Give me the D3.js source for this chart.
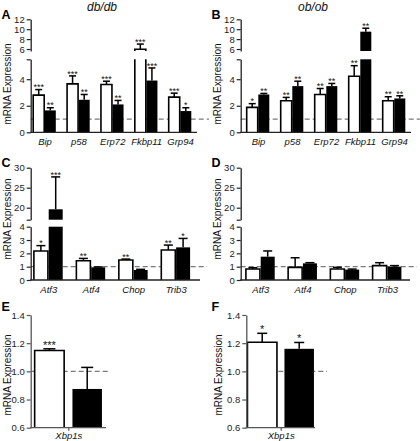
<!DOCTYPE html>
<html><head><meta charset="utf-8">
<script src="https://cdn.jsdelivr.net/npm/d3@7"></script>
<style>
body{margin:0;background:#fff}
svg{display:block}
text{font-family:"Liberation Sans",Arial,sans-serif}
</style>
</head><body>
<svg id="c" width="420" height="441"></svg>
<script>
// ---------- DATA ----------
const erGenes  = ["Bip","p58","Erp72","Fkbp11","Grp94"];
const uprGenes = ["Atf3","Atf4","Chop","Trib3"];
const xbpGenes = ["Xbp1s"];

// Panel A (db/db)
const aWhite = [2.8, 3.65, 3.6, 5.95, 2.65];
const aWhiteErr = [0.42, 0.6, 0.25, 1.05, 0.3];
const aBlack = [1.65, 2.45, 2.1, 3.9, 1.6];
const aBlackErr = [0.2, 0.4, 0.3, 0.95, 0.25];
const aWhiteStars = ["***","***","***","***","***"];
const aBlackStars = ["**","**","**","***","*"];

// Panel B (ob/ob)
const bWhite = [1.88, 2.38, 2.85, 4.22, 2.38];
const bWhiteErr = [0.28, 0.25, 0.45, 0.8, 0.3];
const bBlack = [2.85, 3.48, 3.48, 9.5, 2.55];
const bBlackErr = [0.08, 0.37, 0.2, 0.7, 0.2];
const bWhiteStars = ["*","**","**","**","**"];
const bBlackStars = ["**","**","**","**","**"];

// Panel C
const cWhite = [2.18, 1.45, 1.5, 2.25];
const cWhiteErr = [0.4, 0.17, 0.07, 0.37];
const cBlack = [19.6, 0.95, 0.75, 2.45];
const cBlackErr = [8.1, 0.03, 0.05, 0.67];
const cWhiteStars = ["*","**","**","**"];
const cBlackStars = ["***","","","*"];

// Panel D
const dWhite = [0.82, 0.95, 0.82, 1.08];
const dWhiteErr = [0.1, 0.72, 0.13, 0.22];
const dBlack = [1.75, 1.25, 0.78, 1.0];
const dBlackErr = [0.43, 0.05, 0.04, 0.08];
const dWhiteStars = ["","","",""];
const dBlackStars = ["","","",""];

// Panel E
const eWhite = [1.148]; const eWhiteErr = [0.012];
const eBlack = [0.875]; const eBlackErr = [0.153];
const eWhiteStars = ["***"]; const eBlackStars = [""];

// Panel F
const fWhite = [1.207]; const fWhiteErr = [0.063];
const fBlack = [1.16]; const fBlackErr = [0.045];
const fWhiteStars = ["*"]; const fBlackStars = ["*"];

// tick values
const erLowerTicks = [0,2,4,5.5], erLowerLabels = [0,2,4];
const erUpperTicks = [6,8,10,12];
const uprLowerTicks = [0,1,2,3,4];
const uprUpperTicks = [17,20,25,30], uprUpperLabels = [20,25,30];
const xbpTicks = [0.6,0.8,1.0,1.2,1.4];

// ---------- DRAW ----------
const svg = d3.select("#c");
const AX = "#222";

function drawPanel(p){
  const g = svg.append("g");
  const segs = p.segs.map(s => Object.assign({}, s, {sc: d3.scaleLinear().domain(s.domain).range(s.range)}));
  const lower = segs[0].sc;
  const segFor = v => segs.find(s => v >= s.domain[0] && v <= s.domain[1]) || segs[segs.length-1];

  // reference dashed line
  g.append("line").attr("x1", p.axisX).attr("x2", p.dashEnd)
    .attr("y1", lower(1)).attr("y2", lower(1))
    .attr("stroke", "#7a7a7a").attr("stroke-width", 1.3).attr("stroke-dasharray", "5,3");

  const xc = d3.scalePoint().domain(p.cats).range(p.centers);
  const series = [
    {vals: p.white, errs: p.whiteErr, stars: p.whiteStars, white: true, off: -(p.gap/2 + p.barW)},
    {vals: p.black, errs: p.blackErr, stars: p.blackStars, white: false, off: p.gap/2}
  ];
  series.forEach(se => {
    p.cats.forEach((c, i) => {
      const v = se.vals[i];
      const x0 = xc(c) + se.off, x1 = x0 + p.barW, cx = (x0 + x1) / 2;
      segs.forEach(s => {
        const b = s.domain[0];
        if (v <= b) return;
        const top = Math.min(v, s.domain[1]);
        const hasTop = v <= s.domain[1];
        const yb = s.sc(b), yt = s.sc(top);
        g.append("rect").attr("x", x0).attr("y", yt).attr("width", p.barW).attr("height", yb - yt)
          .attr("fill", se.white ? "#fff" : "#000");
        if (se.white) {
          const path = hasTop
            ? `M${x0},${yb}V${yt}H${x1}V${yb}`
            : `M${x0},${yb}V${yt}M${x1},${yt}V${yb}`;
          g.append("path").attr("d", path).attr("fill", "none").attr("stroke", "#000").attr("stroke-width", 1.6);
        }
      });
      // error bar (upper only)
      const e = v + se.errs[i];
      const sv = segFor(v), see = segFor(e);
      const yv = sv.sc(v), ye = see.sc(e);
      g.append("line").attr("x1", cx).attr("x2", cx).attr("y1", yv).attr("y2", ye)
        .attr("stroke", "#000").attr("stroke-width", 1.5);
      g.append("line").attr("x1", cx - p.capW/2).attr("x2", cx + p.capW/2).attr("y1", ye).attr("y2", ye)
        .attr("stroke", "#000").attr("stroke-width", 1.5);
      if (se.stars[i]) {
        g.append("text").attr("x", cx).attr("y", ye - p.starOff + 0.58 * p.starFs)
          .attr("text-anchor", "middle").attr("font-size", p.starFs).attr("fill", "#111")
          .text(se.stars[i]);
      }
    });
  });

  // y axis segments
  segs.forEach(s => {
    const ax = d3.axisLeft(s.sc).tickValues(s.ticks).tickSize(4).tickSizeOuter(0).tickPadding(2)
      .tickFormat(d => (s.labels ? (s.labels.includes(d) ? p.fmt(d) : "") : p.fmt(d)));
    const ag = g.append("g").attr("transform", `translate(${p.axisX},0)`).call(ax);
    ag.select(".domain").attr("stroke", p.axColor).attr("stroke-width", 1.3);
    ag.selectAll(".tick line").attr("stroke", p.axColor).attr("stroke-width", 1.2);
    ag.selectAll(".tick text").attr("font-size", 9.5).attr("fill", "#222")
      .attr("font-family", "'Liberation Sans',Arial,sans-serif");
  });

  // x axis line
  g.append("line").attr("x1", p.axisX - 0.6).attr("x2", p.xEnd)
    .attr("y1", p.segs[0].range[0]).attr("y2", p.segs[0].range[0])
    .attr("stroke", p.axColor).attr("stroke-width", 1.3);
  const xa = d3.axisBottom(xc).tickSize(p.xTick).tickSizeOuter(0).tickPadding(p.xPad);
  const xg = g.append("g").attr("transform", `translate(0,${p.segs[0].range[0]})`).call(xa);
  xg.select(".domain").remove();
  xg.selectAll(".tick line").attr("stroke", p.axColor).attr("stroke-width", 1.2);
  xg.selectAll(".tick text").attr("font-size", 9.5).attr("font-style", "italic").attr("fill", "#111")
    .attr("font-family", "'Liberation Sans',Arial,sans-serif");

  // y label
  g.append("text").attr("transform", `translate(${p.ylabX},${p.ylabY}) rotate(-90)`)
    .attr("text-anchor", "middle").attr("font-size", 10).attr("fill", "#111").text("mRNA Expression");
  // panel letter
  g.append("text").attr("x", p.letterX).attr("y", p.letterY).attr("font-size", 12.5)
    .attr("font-weight", "bold").attr("fill", "#000").text(p.letter);
  if (p.title) {
    g.append("text").attr("x", p.titleX).attr("y", 11).attr("text-anchor", "middle")
      .attr("font-size", 12).attr("font-style", "italic").attr("fill", "#111").text(p.title);
  }
}

const intFmt = d3.format("d");
const decFmt = d3.format(".1f");

const erSegs = [
  {domain:[0,5.5], range:[132.3,59.3], ticks: erLowerTicks, labels: erLowerLabels},
  {domain:[5.6,12], range:[51,19.3], ticks: erUpperTicks}
];
const uprSegs = [
  {domain:[0,4], range:[280,226.7], ticks: uprLowerTicks},
  {domain:[17,30], range:[219.7,167.7], ticks: uprUpperTicks, labels: uprUpperLabels}
];
const xbpSegs = [
  {domain:[0.6,1.4], range:[427.7,315], ticks: xbpTicks}
];

const common = {fmt: intFmt, axColor: AX, xTick: 0, starOff: 4.5, starFs: 9};

drawPanel(Object.assign({}, common, {
  cats: erGenes, white: aWhite, whiteErr: aWhiteErr, black: aBlack, blackErr: aBlackErr,
  whiteStars: aWhiteStars, blackStars: aBlackStars, segs: erSegs,
  axisX: 30.7, xEnd: 197, dashEnd: 209, centers: [44.5, 180], barW: 11, gap: 0.6, capW: 7,
  xPad: 6, ylabX: 10.5, ylabY: 84, letter: "A", letterX: 1.5, letterY: 19, title: "db/db", titleX: 102
}));
drawPanel(Object.assign({}, common, {
  cats: erGenes, white: bWhite, whiteErr: bWhiteErr, black: bBlack, blackErr: bBlackErr,
  whiteStars: bWhiteStars, blackStars: bBlackStars, segs: erSegs,
  axisX: 240.7, xEnd: 411, dashEnd: 420, centers: [258, 394], barW: 11, gap: 0.6, capW: 7,
  xPad: 6, ylabX: 220.5, ylabY: 84, letter: "B", letterX: 211.5, letterY: 19, title: "ob/ob", titleX: 313
}));
drawPanel(Object.assign({}, common, {
  cats: uprGenes, white: cWhite, whiteErr: cWhiteErr, black: cBlack, blackErr: cBlackErr,
  whiteStars: cWhiteStars, blackStars: cBlackStars, segs: uprSegs,
  axisX: 30.7, xEnd: 200, dashEnd: 207, centers: [48.3, 175.7], barW: 14, gap: 0.8, capW: 9,
  xPad: 6, ylabX: 10.5, ylabY: 219, letter: "C", letterX: 1.5, letterY: 167
}));
drawPanel(Object.assign({}, common, {
  cats: uprGenes, white: dWhite, whiteErr: dWhiteErr, black: dBlack, blackErr: dBlackErr,
  whiteStars: dWhiteStars, blackStars: dBlackStars, segs: uprSegs,
  axisX: 240.7, xEnd: 410, dashEnd: 417, centers: [260.3, 387], barW: 14, gap: 0.8, capW: 9,
  xPad: 6, ylabX: 220.5, ylabY: 219, letter: "D", letterX: 211.5, letterY: 167
}));
drawPanel(Object.assign({}, common, {
  fmt: decFmt, axColor: "#555", xTick: 3, starOff: 6.5, starFs: 11,
  cats: xbpGenes, white: eWhite, whiteErr: eWhiteErr, black: eBlack, blackErr: eBlackErr,
  whiteStars: eWhiteStars, blackStars: eBlackStars, segs: xbpSegs,
  axisX: 30.7, xEnd: 106, dashEnd: 110, centers: [68.3, 68.3], barW: 29.5, gap: 8.3, capW: 12,
  xPad: 2, ylabX: 10.5, ylabY: 375, letter: "E", letterX: 1.5, letterY: 311
}));
drawPanel(Object.assign({}, common, {
  fmt: decFmt, axColor: "#555", xTick: 3, starOff: 6.5, starFs: 11,
  cats: xbpGenes, white: fWhite, whiteErr: fWhiteErr, black: fBlack, blackErr: fBlackErr,
  whiteStars: fWhiteStars, blackStars: fBlackStars, segs: xbpSegs,
  axisX: 246.3, xEnd: 315, dashEnd: 327, centers: [280.7, 280.7], barW: 29.5, gap: 7.5, capW: 10,
  xPad: 2, ylabX: 222, ylabY: 375, letter: "F", letterX: 211.5, letterY: 311
}));
</script>
</body></html>
